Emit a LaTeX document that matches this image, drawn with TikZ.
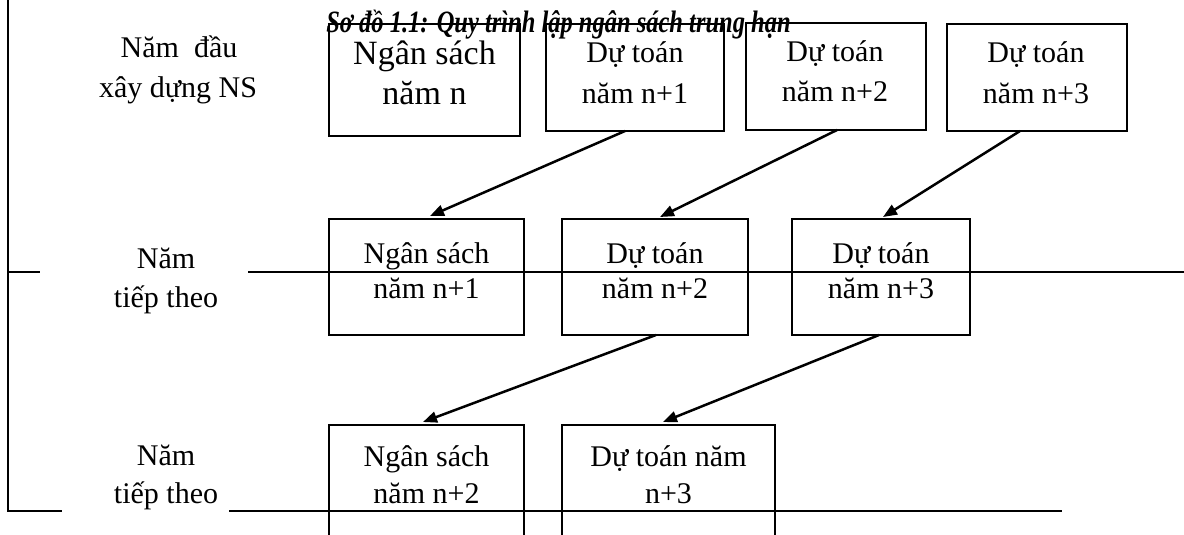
\documentclass[tikz,border=0pt]{standalone}
\usepackage{fontspec}
\setmainfont{Liberation Serif}
\usetikzlibrary{arrows.meta}
\tikzset{
  box/.style={draw, line width=2.5pt, inner sep=0pt, outer sep=0pt},
  txt/.style={font=\fontsize{30}{36}\selectfont, anchor=base, inner sep=0pt},
  bigtxt/.style={font=\fontsize{34}{40}\selectfont, anchor=base, inner sep=0pt},
  arr/.style={-{Triangle[length=14pt,width=11pt]}, line width=2.5pt},
  rule/.style={line width=2.5pt}
}
\begin{document}
\begin{tikzpicture}[x=1pt,y=-1pt]
\useasboundingbox (0,0) rectangle (1184,535);
\clip (0,0) rectangle (1184,535);
% frame rules
\coordinate (vt) at (8,0);
\coordinate (vb) at (8,511);
\coordinate (m1) at (40,272);
\coordinate (m2) at (248,272);
\coordinate (m3) at (1184,272);
\coordinate (b1) at (62,511);
\coordinate (b2) at (229,511);
\coordinate (b3) at (1062,511);
\draw[rule] (vt) -- (vb) -- (b1);
\draw[rule] (vb |- m1) -- (m1);
\draw[rule] (m2) -- (m3);
\draw[rule] (b2) -- (b3);
% row 1 boxes
\node[box, minimum width=191pt, minimum height=112pt] (A) at (424.5,80) {};
\node[box, minimum width=178pt, minimum height=107pt] (B) at (635,77.5) {};
\node[box, minimum width=180pt, minimum height=107pt] (C) at (836,76.5) {};
\node[box, minimum width=180pt, minimum height=107pt] (D) at (1037,77.5) {};
% row 2 boxes
\node[box, minimum width=195pt, minimum height=116pt] (E) at (426.5,277) {};
\node[box, minimum width=186pt, minimum height=116pt] (F) at (655,277) {};
\node[box, minimum width=178pt, minimum height=116pt] (G) at (881,277) {};
% row 3 boxes (open at the bottom, cut by the page edge)
\node[box, minimum width=195pt, minimum height=130pt] (H) at (426.5,490) {};
\node[box, minimum width=213pt, minimum height=130pt] (I) at (668.5,490) {};
% title
\node[font=\bfseries\itshape\fontsize{31}{33}\selectfont, anchor=base, inner sep=0pt, xscale=0.79] (title) at (558.5,33) {Sơ đồ 1.1: Quy trình lập ngân sách trung hạn};
% left labels
\node[txt] (l1a) at (179,58) {Năm~~đầu};
\node[txt] (l1b) at (178,97) {xây dựng NS};
\node[txt] (l2a) at (166,268) {Năm};
\node[txt] (l2b) at (166,307) {tiếp theo};
\node[txt] (l3a) at (166,465) {Năm};
\node[txt] (l3b) at (166,503) {tiếp theo};
% row 1 texts
\node[bigtxt] (tA1) at (424.5,65) {Ngân sách};
\node[bigtxt] (tA2) at (424.5,105) {năm n};
\node[txt] (tB1) at (635,63) {Dự toán};
\node[txt] (tB2) at (635,103) {năm n+1};
\node[txt] (tC1) at (835,62) {Dự toán};
\node[txt] (tC2) at (835,101) {năm n+2};
\node[txt] (tD1) at (1036,63) {Dự toán};
\node[txt] (tD2) at (1036,103) {năm n+3};
% row 2 texts
\node[txt] (tE1) at (426.5,263) {Ngân sách};
\node[txt] (tE2) at (426.5,298) {năm n+1};
\node[txt] (tF1) at (655,263) {Dự toán};
\node[txt] (tF2) at (655,298) {năm n+2};
\node[txt] (tG1) at (881,263) {Dự toán};
\node[txt] (tG2) at (881,298) {năm n+3};
% row 3 texts
\node[txt] (tH1) at (426.5,466) {Ngân sách};
\node[txt] (tH2) at (426.5,503) {năm n+2};
\node[txt] (tI1) at (668.5,466) {Dự toán năm};
\node[txt] (tI2) at (668.5,503) {n+3};
% arrows
\draw[arr] ([xshift=-10pt]B.south) -- ([xshift=3.5pt,yshift=3pt]E.north);
\draw[arr] ([xshift=1pt]C.south) -- ([xshift=5pt,yshift=2pt]F.north);
\draw[arr] ([xshift=-17pt]D.south) -- ([xshift=2pt,yshift=2pt]G.north);
\draw[arr] ([xshift=1pt]F.south) -- ([xshift=-3.5pt,yshift=3pt]H.north);
\draw[arr] ([xshift=-2pt]G.south) -- ([xshift=-5.5pt,yshift=3pt]I.north);
\end{tikzpicture}
\end{document}
